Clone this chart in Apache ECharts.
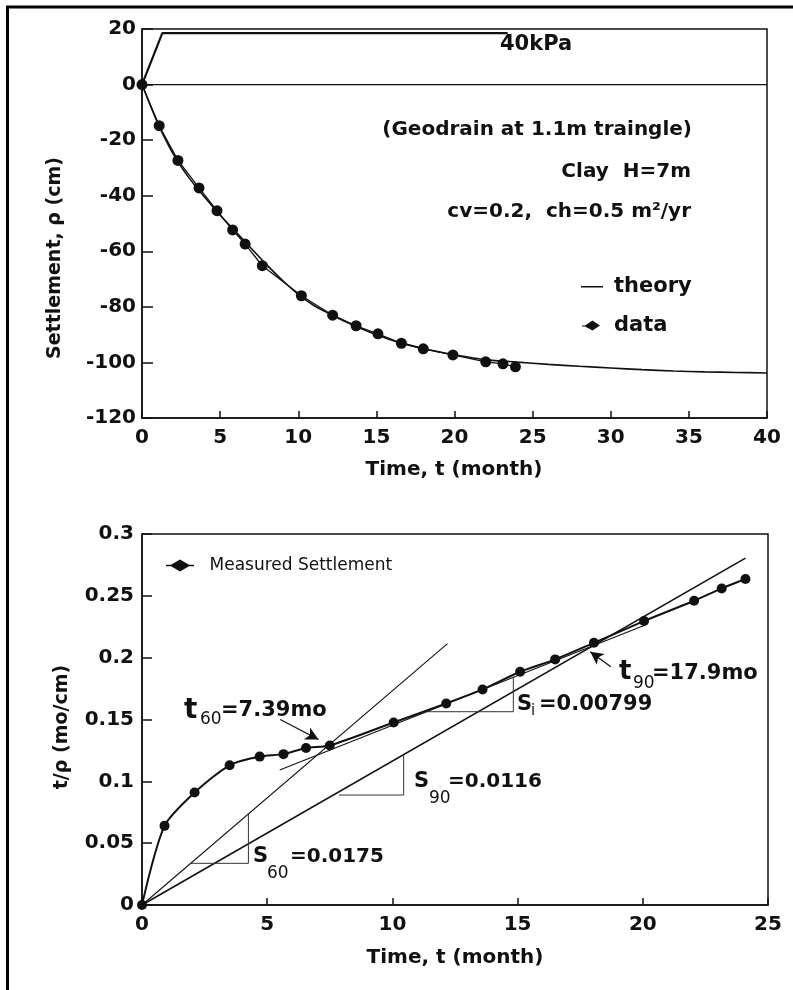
<!DOCTYPE html>
<html>
<head>
<meta charset="utf-8">
<script src="https://cdn.jsdelivr.net/npm/echarts@6.0.0/dist/echarts.min.js"></script>
<style>
html,body{margin:0;padding:0;background:#fff;}
#chart{width:793px;height:990px;}
</style>
</head>
<body>
<div id="chart"></div>
<script>
// ---------- Top chart: settlement vs time ----------
var topTime = [0, 1.1, 2.3, 3.65, 4.8, 5.8, 6.6, 7.7, 10.2, 12.2, 13.7, 15.1, 16.6, 18.0, 19.9, 22.0, 23.1, 23.9];
var topSettlement = [0, -14.8, -27.3, -37.2, -45.4, -52.3, -57.4, -65.2, -76, -83, -86.8, -89.7, -93.1, -95.1, -97.3, -99.8, -100.5, -101.6];
var theoryTime = [0, 1, 2, 3, 4, 5, 6, 7, 8, 9, 10, 11, 12, 13, 14, 15, 16, 17, 18, 19, 20, 22, 24, 26, 28, 30, 32, 34, 36, 38, 40];
var theorySettlement = [0, -13.8, -25, -33.5, -40.5, -47, -53, -59, -65, -70.5, -75.5, -79.5, -82.5, -85.3, -87.8, -90, -92, -93.6, -95, -96.2, -97.3, -99, -99.9, -100.7, -101.4, -102, -102.6, -103.1, -103.4, -103.6, -103.8];
var loadTime = [0, 1.3, 23.4];
var loadValue = [0, 18.5, 18.5];
var zeroTime = [0, 40];
var zeroValue = [0, 0];
var topXTicks = {min: 0, max: 40, interval: 5};
var topYTicks = {min: -120, max: 20, interval: 20};

// ---------- Bottom chart: t/rho vs time ----------
var botTime = [0, 0.9, 2.1, 3.5, 4.7, 5.65, 6.55, 7.5, 10.05, 12.15, 13.6, 15.1, 16.5, 18.05, 20.05, 22.05, 23.15, 24.1];
var botRatio = [0, 0.064, 0.091, 0.113, 0.120, 0.122, 0.127, 0.129, 0.1476, 0.163, 0.1743, 0.1886, 0.1986, 0.212, 0.2296, 0.246, 0.256, 0.2636];
var s60Line = [[0, 0], [12.2, 0.2113]];
var s90Line = [[0, 0], [24.1, 0.2805]];
var siLine = [[5.5, 0.1092], [20.1, 0.2265]];
var s60Tri = [[1.95, 0.0337], [4.25, 0.0337], [4.25, 0.0735]];
var s90Tri = [[7.87, 0.0889], [10.45, 0.0889], [10.45, 0.1222]];
var siTri = [[11.25, 0.1563], [14.83, 0.1563], [14.83, 0.1836]];
var t60Arrow = [[5.52, 0.150], [7.05, 0.1338]];
var t90Arrow = [[18.72, 0.1927], [17.9, 0.2048]];
var botXTicks = {min: 0, max: 25, interval: 5};
var botYTicks = {min: 0, max: 0.3, interval: 0.05};

function zip(a, b) { return a.map(function (v, i) { return [v, b[i]]; }); }

var FONT = 'DejaVu Sans';
var INK = '#111';

function axisCommon(tickLen) {
  return {
    axisLine: {show: true, onZero: false, lineStyle: {color: INK, width: 1.5}},
    axisTick: {show: true, inside: true, length: tickLen, lineStyle: {color: INK, width: 1.5}},
    splitLine: {show: false},
    axisLabel: {color: INK, fontFamily: FONT, fontWeight: 'bold', fontSize: 20}
  };
}
function mk(base, extra) { return Object.assign({}, base, extra); }

var chart = echarts.init(document.getElementById('chart'), null, {renderer: 'canvas'});

var thinLine = {color: INK, width: 1.1};
// legend icons (corner specks keep the bounding box at full icon size)
var CORNERS = 'M0,0 L0.01,0 L0,0.01 Z M22,11 L21.99,11 L22,10.99 Z ';
var theoryIcon = 'path://' + CORNERS + 'M0,5 H22 V6.4 H0 Z';
var dataIcon = 'path://' + CORNERS + 'M1,5.4 H4 L11.5,0.5 L19,5.5 L11.5,10.5 L4,6.4 H1 Z';
var measuredIcon = 'path://M0,5.3 H5 L14,0 L23,5.3 H28 V6.7 H23 L14,12 L5,6.7 H0 Z';

var option = {
  animation: false,
  backgroundColor: '#fff',
  grid: [
    {left: 142, top: 29, width: 625, height: 389, show: true, borderColor: INK, borderWidth: 1.5, backgroundColor: 'transparent', containLabel: false, outerBoundsMode: 'none'},
    {left: 142, top: 534, width: 626, height: 371, show: true, borderColor: INK, borderWidth: 1.5, backgroundColor: 'transparent', containLabel: false, outerBoundsMode: 'none'}
  ],
  xAxis: [
    mk(axisCommon(7), {type: 'value', gridIndex: 0, min: topXTicks.min, max: topXTicks.max, interval: topXTicks.interval,
      axisLabel: {color: INK, fontFamily: FONT, fontWeight: 'bold', fontSize: 20, margin: 10}}),
    mk(axisCommon(7), {type: 'value', gridIndex: 1, min: botXTicks.min, max: botXTicks.max, interval: botXTicks.interval,
      axisLabel: {color: INK, fontFamily: FONT, fontWeight: 'bold', fontSize: 20, margin: 10}})
  ],
  yAxis: [
    mk(axisCommon(11), {type: 'value', gridIndex: 0, min: topYTicks.min, max: topYTicks.max, interval: topYTicks.interval,
      axisLabel: {color: INK, fontFamily: FONT, fontWeight: 'bold', fontSize: 20, margin: 6}}),
    mk(axisCommon(10), {type: 'value', gridIndex: 1, min: botYTicks.min, max: botYTicks.max, interval: botYTicks.interval,
      axisLabel: {color: INK, fontFamily: FONT, fontWeight: 'bold', fontSize: 20, margin: 8}})
  ],
  legend: [
    {
      orient: 'vertical', left: 576, top: 271, itemWidth: 22, itemHeight: 11, itemGap: 18,
      textStyle: {color: INK, fontFamily: FONT, fontWeight: 'bold', fontSize: 21, padding: [0, 0, 0, 6]},
      data: [
        {name: 'theory', icon: theoryIcon},
        {name: 'data', icon: dataIcon}
      ],
      selectedMode: false
    },
    {
      orient: 'vertical', left: 161, top: 552, itemWidth: 29, itemHeight: 12,
      textStyle: {color: INK, fontFamily: FONT, fontSize: 17, padding: [0, 0, 0, 10]},
      data: [{name: 'Measured Settlement', icon: measuredIcon}],
      selectedMode: false
    }
  ],
  series: [
    // top chart
    {name: 'zero', type: 'line', xAxisIndex: 0, yAxisIndex: 0, data: zip(zeroTime, zeroValue), symbol: 'none', lineStyle: {color: INK, width: 1.3}, silent: true},
    {name: 'load', type: 'line', xAxisIndex: 0, yAxisIndex: 0, data: zip(loadTime, loadValue), symbol: 'none', lineStyle: {color: INK, width: 2.2}, silent: true},
    {name: 'theory', type: 'line', xAxisIndex: 0, yAxisIndex: 0, data: zip(theoryTime, theorySettlement), smooth: 0.3, symbol: 'none', itemStyle: {color: INK}, lineStyle: {color: INK, width: 1.6}},
    {name: 'data', type: 'line', xAxisIndex: 0, yAxisIndex: 0, data: zip(topTime, topSettlement), symbol: 'circle', symbolSize: 11, showAllSymbol: true, itemStyle: {color: INK}, lineStyle: {color: INK, width: 1.3}, z: 5},
    // bottom chart
    {name: 's60', type: 'line', xAxisIndex: 1, yAxisIndex: 1, data: s60Line, symbol: 'none', lineStyle: thinLine, silent: true},
    {name: 's90', type: 'line', xAxisIndex: 1, yAxisIndex: 1, data: s90Line, symbol: 'none', lineStyle: {color: INK, width: 1.6}, silent: true},
    {name: 'si', type: 'line', xAxisIndex: 1, yAxisIndex: 1, data: siLine, symbol: 'none', lineStyle: thinLine, silent: true},
    {name: 's60tri', type: 'line', xAxisIndex: 1, yAxisIndex: 1, data: s60Tri, symbol: 'none', lineStyle: {color: '#333', width: 1}, silent: true},
    {name: 's90tri', type: 'line', xAxisIndex: 1, yAxisIndex: 1, data: s90Tri, symbol: 'none', lineStyle: {color: '#333', width: 1}, silent: true},
    {name: 'sitri', type: 'line', xAxisIndex: 1, yAxisIndex: 1, data: siTri, symbol: 'none', lineStyle: {color: '#333', width: 1}, silent: true},
    {name: 'Measured Settlement', type: 'line', xAxisIndex: 1, yAxisIndex: 1, data: zip(botTime, botRatio), smooth: 0.25,
      symbol: 'circle', symbolSize: 10, showAllSymbol: true, itemStyle: {color: INK}, lineStyle: {color: INK, width: 2}, z: 5,
      markLine: {
        silent: true, symbol: ['none', 'arrow'], symbolSize: [10, 13], label: {show: false},
        lineStyle: {color: INK, width: 1.3, type: 'solid'},
        data: [
          [{coord: t60Arrow[0]}, {coord: t60Arrow[1]}],
          [{coord: t90Arrow[0]}, {coord: t90Arrow[1]}]
        ]
      }
    }
  ],
  graphic: [
    // outer frame (top & left edges)
    {type: 'line', shape: {x1: 6, y1: 7, x2: 793, y2: 7}, style: {stroke: '#000', lineWidth: 3}},
    {type: 'line', shape: {x1: 7.5, y1: 6, x2: 7.5, y2: 990}, style: {stroke: '#000', lineWidth: 3}},
    // axis names
    {type: 'text', x: 55, y: 258, rotation: Math.PI / 2, style: {text: 'Settlement, \u03c1 (cm)', fill: INK, font: 'bold 19px "DejaVu Sans"', align: 'center', verticalAlign: 'middle'}},
    {type: 'text', x: 454, y: 470, style: {text: 'Time, t (month)', fill: INK, font: 'bold 20px "DejaVu Sans"', align: 'center', verticalAlign: 'middle'}},
    {type: 'text', x: 62, y: 727, rotation: Math.PI / 2, style: {text: 't/\u03c1 (mo/cm)', fill: INK, font: 'bold 19px "DejaVu Sans"', align: 'center', verticalAlign: 'middle'}},
    {type: 'text', x: 455, y: 958, style: {text: 'Time, t (month)', fill: INK, font: 'bold 20px "DejaVu Sans"', align: 'center', verticalAlign: 'middle'}},
    // top annotations
    {type: 'text', x: 500, y: 45, style: {text: '40kPa', fill: INK, font: 'bold 21px "DejaVu Sans"', align: 'left', verticalAlign: 'middle'}},
    {type: 'text', x: 692, y: 130, style: {text: '(Geodrain at 1.1m traingle)', fill: INK, font: 'bold 20px "DejaVu Sans"', align: 'right', verticalAlign: 'middle'}},
    {type: 'text', x: 691, y: 172, style: {text: 'Clay  H=7m', fill: INK, font: 'bold 20px "DejaVu Sans"', align: 'right', verticalAlign: 'middle'}},
    {type: 'text', x: 691, y: 212, style: {text: 'cv=0.2,  ch=0.5 m\u00b2/yr', fill: INK, font: 'bold 20px "DejaVu Sans"', align: 'right', verticalAlign: 'middle'}},
    // bottom annotations: t60
    {type: 'text', x: 184, y: 711, style: {text: 't', fill: INK, font: 'bold 28px "DejaVu Sans"', align: 'left', verticalAlign: 'middle'}},
    {type: 'text', x: 200, y: 720, style: {text: '60', fill: INK, font: '17px "DejaVu Sans"', align: 'left', verticalAlign: 'middle'}},
    {type: 'text', x: 221, y: 711, style: {text: '=7.39mo', fill: INK, font: 'bold 21px "DejaVu Sans"', align: 'left', verticalAlign: 'middle'}},
    // S60
    {type: 'text', x: 253, y: 857, style: {text: 'S', fill: INK, font: 'bold 21px "DejaVu Sans"', align: 'left', verticalAlign: 'middle'}},
    {type: 'text', x: 267, y: 874, style: {text: '60', fill: INK, font: '17px "DejaVu Sans"', align: 'left', verticalAlign: 'middle'}},
    {type: 'text', x: 290, y: 857, style: {text: '=0.0175', fill: INK, font: 'bold 20px "DejaVu Sans"', align: 'left', verticalAlign: 'middle'}},
    // S90
    {type: 'text', x: 414, y: 782, style: {text: 'S', fill: INK, font: 'bold 21px "DejaVu Sans"', align: 'left', verticalAlign: 'middle'}},
    {type: 'text', x: 429, y: 799, style: {text: '90', fill: INK, font: '17px "DejaVu Sans"', align: 'left', verticalAlign: 'middle'}},
    {type: 'text', x: 448, y: 782, style: {text: '=0.0116', fill: INK, font: 'bold 20px "DejaVu Sans"', align: 'left', verticalAlign: 'middle'}},
    // Si
    {type: 'text', x: 517, y: 705, style: {text: 'S', fill: INK, font: 'bold 21px "DejaVu Sans"', align: 'left', verticalAlign: 'middle'}},
    {type: 'text', x: 531, y: 711, style: {text: 'i', fill: INK, font: '15px "DejaVu Sans"', align: 'left', verticalAlign: 'middle'}},
    {type: 'text', x: 539, y: 705, style: {text: '=0.00799', fill: INK, font: 'bold 21px "DejaVu Sans"', align: 'left', verticalAlign: 'middle'}},
    // t90
    {type: 'text', x: 619, y: 672, style: {text: 't', fill: INK, font: 'bold 26px "DejaVu Sans"', align: 'left', verticalAlign: 'middle'}},
    {type: 'text', x: 633, y: 684, style: {text: '90', fill: INK, font: '17px "DejaVu Sans"', align: 'left', verticalAlign: 'middle'}},
    {type: 'text', x: 652, y: 674, style: {text: '=17.9mo', fill: INK, font: 'bold 21px "DejaVu Sans"', align: 'left', verticalAlign: 'middle'}}
  ]
};

chart.setOption(option);
</script>
</body>
</html>
